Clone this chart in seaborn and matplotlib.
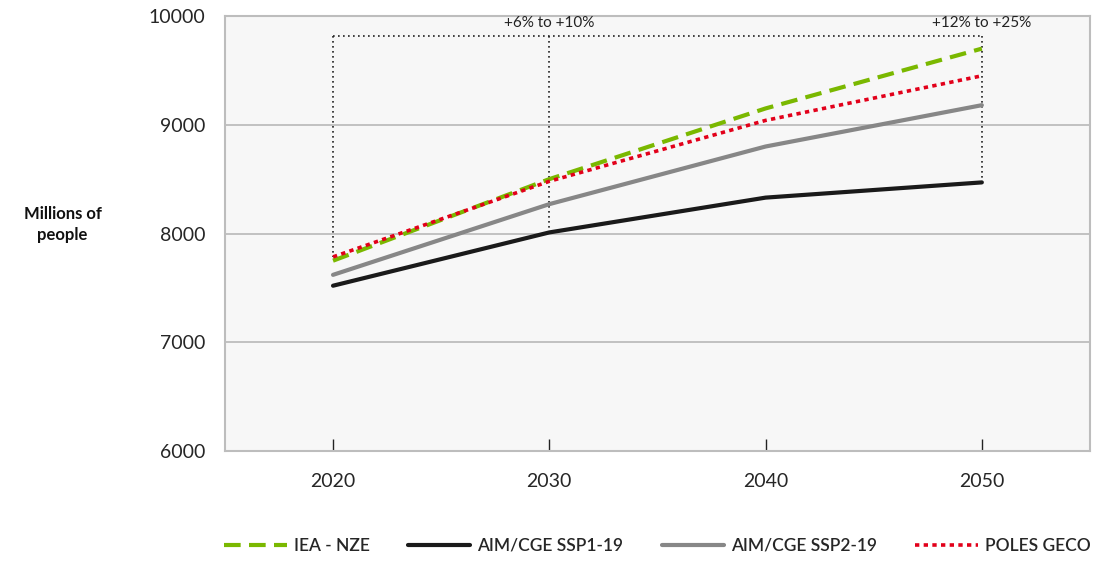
import numpy as np
import pandas as pd
import seaborn as sns
import matplotlib.pyplot as plt

# Population scenarios (millions of people)
years = [2020, 2030, 2040, 2050]
iea_nze = [7750, 8500, 9150, 9700]
aim_ssp1 = [7520, 8010, 8330, 8470]
aim_ssp2 = [7620, 8270, 8800, 9180]
poles_geco = [7785, 8480, 9040, 9450]

series_names = ["IEA - NZE", "AIM/CGE SSP1-19", "AIM/CGE SSP2-19", "POLES GECO"]
series_values = [iea_nze, aim_ssp1, aim_ssp2, poles_geco]
colors = ["#7ab800", "#1a1a1a", "#878787", "#e2001a"]
styles = [(0, (4, 2)), "-", "-", (0, (1.2, 1.2))]
widths = [3, 3, 3, 2.6]

range_labels = ["+6% to +10%", "+12% to +25%"]
range_years = [2030, 2050]

df = pd.DataFrame({
    "year": years * len(series_names),
    "value": sum(series_values, []),
    "scenario": np.repeat(series_names, len(years)),
})

sns.set_style("white")
plt.rcParams["font.family"] = ["Lato", "DejaVu Sans"]

fig = plt.figure(figsize=(10.97, 5.61), dpi=100)
ax = fig.add_axes([0.205, 0.196, 0.7886, 0.7755])
ax.set_facecolor("#f7f7f7")

for name, col, ls, lw in zip(series_names, colors, styles, widths):
    sub = df[df["scenario"] == name]
    sns.lineplot(data=sub, x="year", y="value", ax=ax, color=col,
                 linestyle=ls, linewidth=lw, label=name, zorder=3)

# dotted bracket for ranges
top = 9815
dot = dict(color="#222222", ls=(0, (1, 2)), lw=1.2, zorder=2)
ax.plot([years[0], years[-1]], [top, top], **dot)
ax.plot([2020, 2020], [top, poles_geco[0]], **dot)
for yr, lab in zip(range_years, range_labels):
    i = years.index(yr)
    ax.plot([yr, yr], [top, aim_ssp1[i]], **dot)
    ax.text(yr, top + 55, lab, ha="center", va="bottom", fontsize=11, color="#222222")

ax.set_xlim(2015, 2055)
ax.set_ylim(6000, 10000)
ax.set_xticks(years)
ax.set_yticks([6000, 7000, 8000, 9000, 10000])
ax.yaxis.grid(True, color="#bdbdbd", lw=1.3)
ax.set_axisbelow(True)
ax.tick_params(axis="x", bottom=True, direction="in", length=9, width=1, color="#222222",
               labelsize=14, pad=16)
ax.tick_params(axis="y", left=False, length=0, labelsize=14, pad=14)
for s in ax.spines.values():
    s.set_color("#bdbdbd")
    s.set_linewidth(1.5)
ax.set_xlabel("")
ax.set_ylabel("")

fig.text(0.057, 0.6, "Millions of\npeople", ha="center", va="center",
         fontsize=12, fontweight="bold", color="#111111", linespacing=1.4)

ax.legend(loc="center", bbox_to_anchor=(0.5, -0.218), ncol=4, frameon=False,
          fontsize=12.5, handlelength=3.6, columnspacing=2.2, handletextpad=0.4,
          prop={"weight": "semibold", "size": 12.5})

fig.savefig("out.png", dpi=100)
